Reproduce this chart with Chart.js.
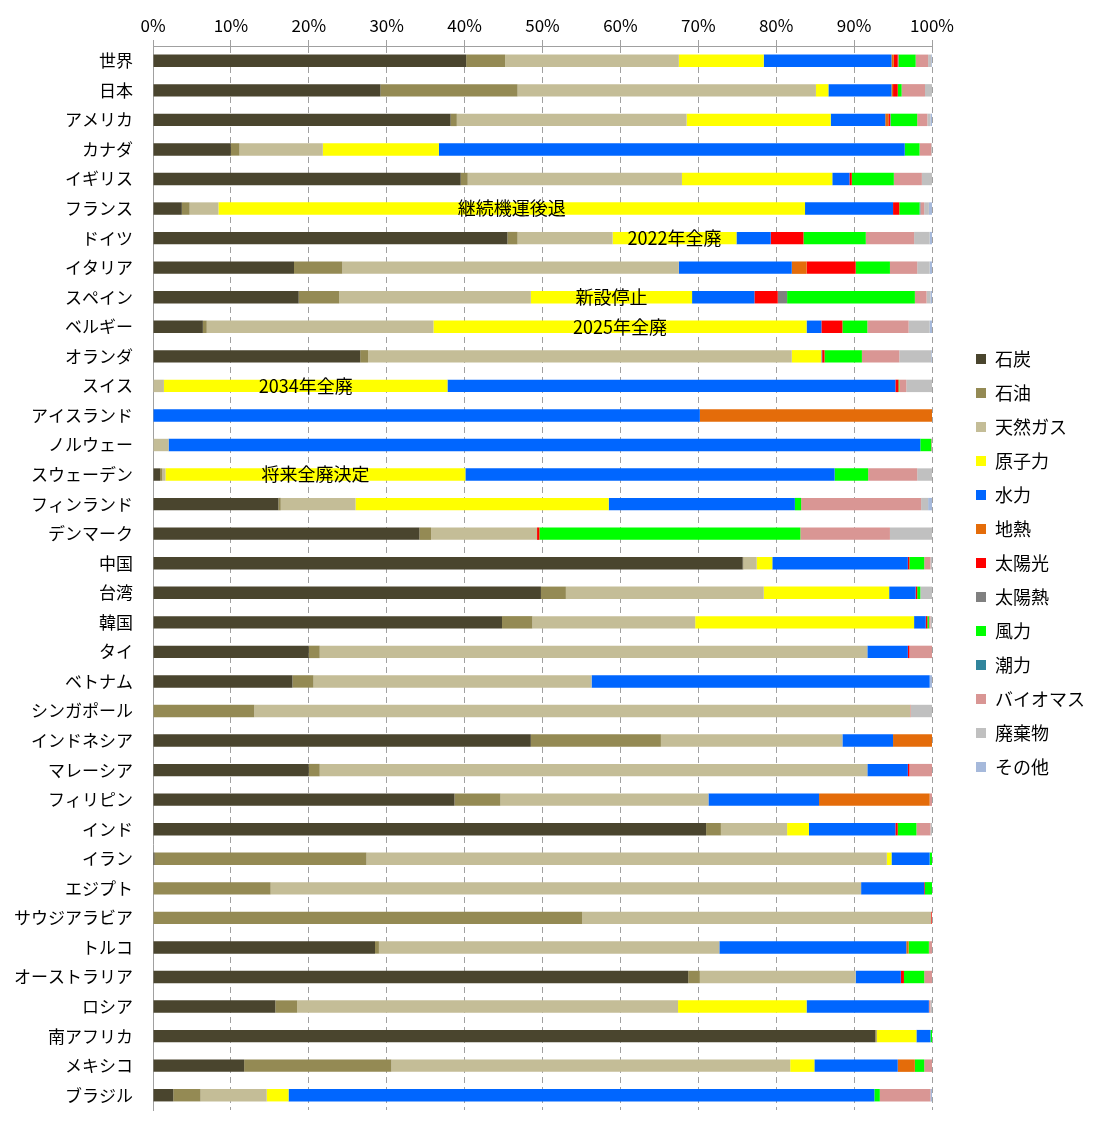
<!DOCTYPE html>
<html><head><meta charset="utf-8">
<script src="https://cdn.jsdelivr.net/npm/chart.js@4.4.1/dist/chart.umd.min.js"></script>
<style>html,body{margin:0;padding:0;background:#fff}#wrap{width:1099px;height:1126px;position:relative}</style>
</head><body><div id="wrap"><canvas id="c"></canvas></div>
<script>
const countries = ['世界','日本','アメリカ','カナダ','イギリス','フランス','ドイツ','イタリア','スペイン','ベルギー','オランダ','スイス','アイスランド','ノルウェー','スウェーデン','フィンランド','デンマーク','中国','台湾','韓国','タイ','ベトナム','シンガポール','インドネシア','マレーシア','フィリピン','インド','イラン','エジプト','サウジアラビア','トルコ','オーストラリア','ロシア','南アフリカ','メキシコ','ブラジル'];
const seriesNames = ['石炭','石油','天然ガス','原子力','水力','地熱','太陽光','太陽熱','風力','潮力','バイオマス','廃棄物','その他'];
const coal    = [40.2,29.2,38.2,10.0,39.5,3.7,45.5,18.1,18.7,6.4,26.6,0,0,0,0.9,16.1,34.2,75.7,49.8,44.8,20.0,17.9,0,48.5,20.0,38.7,71.0,0.2,0,0,28.5,68.7,15.7,92.7,11.7,2.6];
const oil     = [5.0,17.6,0.8,1.1,0.9,1.0,1.3,6.2,5.2,0.5,1.0,0,0,0,0.3,0.3,1.5,0.1,3.2,3.9,1.4,2.7,13.0,16.7,1.4,5.9,1.9,27.2,15.1,55.1,0.5,1.5,2.8,0.2,18.9,3.5];
const gas     = [22.3,38.3,29.5,10.7,27.5,3.7,12.2,43.2,24.6,29.1,54.4,1.4,0,2.0,0.4,9.6,13.6,1.7,25.4,20.9,70.3,35.7,84.2,23.3,70.3,26.7,8.5,66.8,75.8,44.8,43.7,20.0,48.9,0,51.2,8.5];
const nuclear = [10.9,1.6,18.5,14.9,19.3,75.3,15.9,0,20.7,47.9,3.8,36.4,0,0,38.5,32.5,0,2.0,16.1,28.1,0,0,0,0,0,0,2.8,0.6,0,0,0,0,16.5,5.1,3.1,2.8];
const hydro   = [16.4,8.1,7.0,59.8,2.2,11.3,4.4,14.5,8.0,1.9,0.1,57.5,70.2,96.5,47.4,23.9,0,17.4,3.4,1.5,5.2,43.4,0,6.5,5.2,14.2,11.1,4.9,8.1,0,24.0,5.8,15.7,1.8,10.7,75.2];
const geo     = [0.3,0.2,0.4,0,0,0,0,1.9,0,0,0,0,29.8,0,0,0,0,0,0,0,0,0,0,5.0,0,14.2,0,0,0,0,0.3,0,0,0,2.2,0];
const solar   = [0.5,0.6,0.2,0,0.3,0.8,4.2,6.3,3.0,2.7,0.3,0.4,0,0,0,0,0.3,0.2,0.2,0.2,0.2,0,0,0,0.2,0,0.3,0,0.1,0.1,0,0.4,0,0,0,0];
const solarTh = [0.1,0,0.1,0,0,0,0,0,1.2,0,0,0,0,0,0,0,0,0,0,0,0,0,0,0,0,0,0,0,0,0,0,0,0,0,0,0];
const wind    = [2.2,0.5,3.4,1.9,5.4,2.6,8.0,4.4,16.4,3.2,4.8,0.1,0,1.4,4.3,0.8,33.5,1.9,0.4,0.2,0,0,0,0,0,0,2.4,0.3,0.9,0,2.6,2.6,0,0.2,1.2,0.7];
const tidal   = [0,0,0,0,0,0.1,0,0,0,0,0,0,0,0,0,0,0,0,0,0,0,0,0,0,0,0,0,0,0,0,0,0,0,0,0,0];
const biomass = [1.6,3.0,1.3,1.5,3.6,0.5,6.2,3.5,1.5,5.3,4.8,0.9,0,0.1,6.3,15.4,11.5,0.8,0,0.2,2.9,0,0.1,0,2.9,0.3,1.8,0,0,0,0.4,1.0,0.2,0,1.0,6.5];
const waste   = [0.4,0.9,0.4,0.1,1.3,0.6,2.0,1.6,0.5,2.7,4.1,3.3,0,0,1.9,0.9,5.4,0.2,1.5,0.2,0,0,2.7,0,0,0,0.2,0,0,0,0,0,0.2,0,0,0];
const other   = [0.1,0,0.2,0,0,0.4,0.3,0.3,0.2,0.3,0.1,0,0,0,0,0.5,0,0,0,0,0,0.3,0,0,0,0,0,0,0,0,0,0,0,0,0,0.2];
const xTicks = [0,10,20,30,40,50,60,70,80,90,100];
const noteCountries = ['フランス','ドイツ','スペイン','ベルギー','スイス','スウェーデン'];
const noteTexts = ['継続機運後退','2022年全廃','新設停止','2025年全廃','2034年全廃','将来全廃決定'];

const colors = ['#4a452e','#948a54','#c4bd97','#ffff00','#0066ff','#e46c0a','#ff0000','#808080','#00ff00','#31859c','#d99694','#c0c0c0','#a6b9db'];
const allSeries = [coal,oil,gas,nuclear,hydro,geo,solar,solarTh,wind,tidal,biomass,waste,other];
const FONT = '"Noto Sans CJK JP", "Noto Sans", sans-serif';

const notePlugin = {
  id: 'notes',
  afterDatasetsDraw(chart) {
    const meta = chart.getDatasetMeta(3);
    const ctx = chart.ctx;
    ctx.save();
    ctx.font = '18px ' + FONT;
    ctx.fillStyle = '#000';
    ctx.textAlign = 'center';
    ctx.textBaseline = 'middle';
    noteCountries.forEach((c, k) => {
      const i = countries.indexOf(c);
      const el = meta.data[i];
      if (!el) return;
      const p = el.getProps(['x','y','base'], true);
      ctx.fillText(noteTexts[k], (p.x + p.base) / 2, p.y);
    });
    ctx.restore();
  }
};

new Chart(document.getElementById('c'), {
  type: 'bar',
  data: {
    labels: countries,
    datasets: seriesNames.map((n, k) => ({
      label: n,
      data: allSeries[k],
      backgroundColor: colors[k],
      borderWidth: 0,
      barPercentage: 0.42,
      categoryPercentage: 1.0
    }))
  },
  options: {
    indexAxis: 'y',
    responsive: true,
    maintainAspectRatio: false,
    animation: false,
    devicePixelRatio: 1,
    layout: { padding: { left: 0, right: 4, top: 0, bottom: 0 } },
    plugins: {
      legend: {
        position: 'right',
        align: 'center',
        labels: { boxWidth: 10, boxHeight: 10, padding: 16, color: '#000', font: { family: FONT, size: 18 } }
      },
      tooltip: { enabled: false }
    },
    scales: {
      x: {
        position: 'top',
        stacked: true,
        min: 0, max: 100,
        afterBuildTicks: s => { s.ticks = xTicks.map(v => ({ value: v })); },
        afterFit: s => { s.height = 46; },
        ticks: { color: '#000', padding: 4, font: { family: FONT, size: 17 }, callback: v => v + '%' },
        grid: { color: '#a0a0a0', lineWidth: 1, tickLength: 6, tickColor: '#a0a0a0', tickBorderDash: [] },
        border: { display: true, color: '#a0a0a0', width: 1, dash: [6, 4] }
      },
      y: {
        stacked: true,
        afterFit: s => { s.width = 153; s.paddingTop = 0; s.paddingBottom = 16; },
        ticks: { color: '#000', padding: 20, font: { family: FONT, size: 17 } },
        grid: { display: false, drawTicks: false },
        border: { display: true, color: '#a0a0a0', width: 1 }
      },
      yR: {
        type: 'linear',
        position: 'right',
        display: true,
        ticks: { display: false },
        grid: { display: false, drawTicks: false },
        border: { display: false },
        afterFit: s => { s.width = 28; s.paddingTop = 0; s.paddingBottom = 0; }
      }
    }
  },
  plugins: [notePlugin]
});
</script></body></html>
